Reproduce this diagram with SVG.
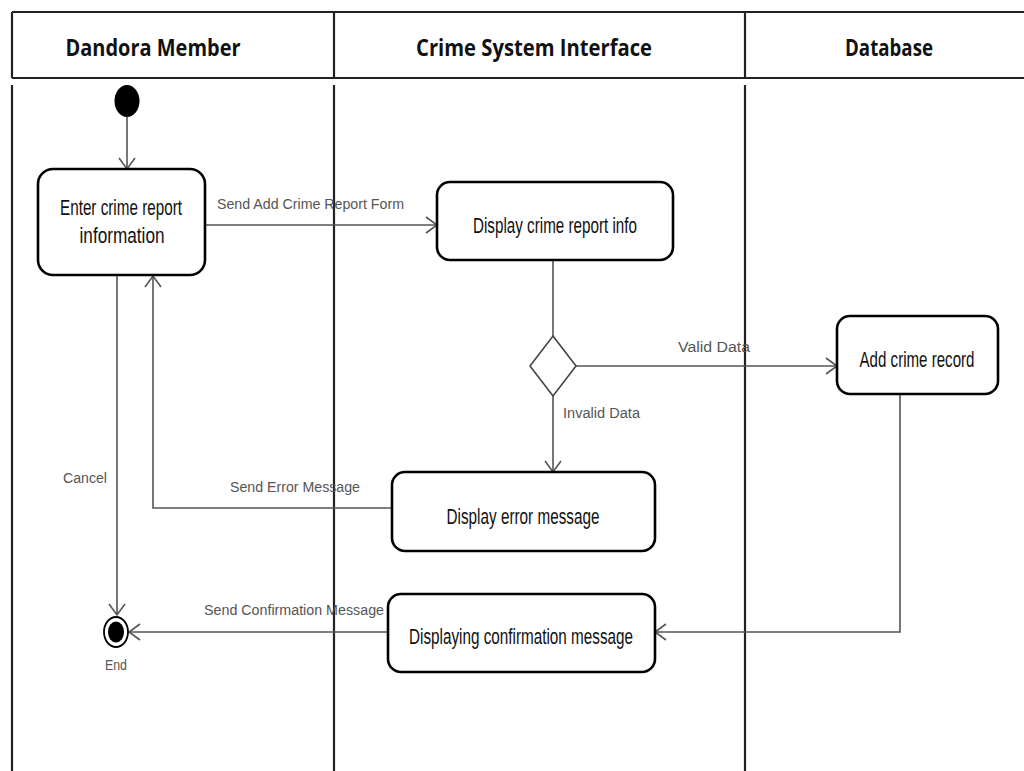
<svg xmlns="http://www.w3.org/2000/svg" width="1024" height="771" viewBox="0 0 1024 771">
<style>
.lane{stroke:#222;stroke-width:2.2;fill:none}
.hdr{font-family:"Open Sans","DejaVu Sans",sans-serif;font-weight:bold;font-size:23px;fill:#111;text-anchor:middle}
.node{fill:#fff;stroke:#000;stroke-width:2.6}
.ntext{font-family:"Liberation Sans",Arial,sans-serif;font-size:18px;fill:#111;text-anchor:middle}
.conn{stroke:#555;stroke-width:1.6;fill:none}
.lbl{font-family:"Liberation Sans",Arial,sans-serif;font-size:15.5px;fill:#555}
</style>
<defs>
<marker id="open" markerWidth="14" markerHeight="18" refX="12" refY="9" orient="auto" markerUnits="userSpaceOnUse">
<path d="M1,1 L12,9 L1,17" fill="none" stroke="#555" stroke-width="1.6"/>
</marker>
</defs>
<rect width="1024" height="771" fill="#fff"/>
<g id="swimlanes">
<line class="lane" x1="12" y1="12" x2="1024" y2="12"/>
<line class="lane" x1="12" y1="78" x2="1024" y2="78"/>
<line class="lane" x1="12" y1="12" x2="12" y2="78"/>
<line class="lane" x1="334" y1="12" x2="334" y2="78"/>
<line class="lane" x1="745" y1="12" x2="745" y2="78"/>
<line class="lane" x1="12" y1="85" x2="12" y2="771"/>
<line class="lane" x1="334" y1="85" x2="334" y2="771"/>
<line class="lane" x1="745" y1="85" x2="745" y2="771"/>
<text class="hdr" x="153" y="56" textLength="175" lengthAdjust="spacingAndGlyphs">Dandora Member</text>
<text class="hdr" x="534" y="56" textLength="236" lengthAdjust="spacingAndGlyphs">Crime System Interface</text>
<text class="hdr" x="889" y="56" textLength="88" lengthAdjust="spacingAndGlyphs">Database</text>
</g>
<g id="connectors">
<line class="conn" x1="127" y1="117" x2="127" y2="169" marker-end="url(#open)"/>
<line class="conn" x1="205" y1="225" x2="437" y2="225" marker-end="url(#open)"/>
<text class="lbl" x="217" y="209" textLength="187" lengthAdjust="spacingAndGlyphs">Send Add Crime Report Form</text>
<line class="conn" x1="553" y1="260" x2="553" y2="336"/>
<line class="conn" x1="576" y1="366" x2="837" y2="366" marker-end="url(#open)"/>
<text class="lbl" x="678" y="352" textLength="72" lengthAdjust="spacingAndGlyphs">Valid Data</text>
<line class="conn" x1="553" y1="396" x2="553" y2="472" marker-end="url(#open)"/>
<text class="lbl" x="563" y="418" textLength="77" lengthAdjust="spacingAndGlyphs">Invalid Data</text>
<polyline class="conn" points="392,508 153,508 153,276" marker-end="url(#open)"/>
<text class="lbl" x="230" y="492" textLength="130" lengthAdjust="spacingAndGlyphs">Send Error Message</text>
<line class="conn" x1="117" y1="275" x2="117" y2="615" marker-end="url(#open)"/>
<text class="lbl" x="63" y="483" textLength="44" lengthAdjust="spacingAndGlyphs">Cancel</text>
<line class="conn" x1="388" y1="632" x2="129" y2="632" marker-end="url(#open)"/>
<text class="lbl" x="204" y="615" textLength="180" lengthAdjust="spacingAndGlyphs">Send Confirmation Message</text>
<polyline class="conn" points="900,394 900,632 655,632" marker-end="url(#open)"/>
</g>
<g id="start">
<ellipse cx="127" cy="101" rx="12.5" ry="16" fill="#000"/>
</g>
<g id="enter-crime-report">
<rect class="node" x="38" y="169" width="167" height="106" rx="15"/>
<text class="ntext" transform="translate(121,215) scale(1,1.2)" textLength="122" lengthAdjust="spacingAndGlyphs">Enter crime report</text>
<text class="ntext" transform="translate(122,243) scale(1,1.2)" textLength="85" lengthAdjust="spacingAndGlyphs">information</text>
</g>
<g id="display-crime-report">
<rect class="node" x="437" y="182" width="236" height="78" rx="13"/>
<text class="ntext" transform="translate(555,233) scale(1,1.2)" textLength="164" lengthAdjust="spacingAndGlyphs">Display crime report info</text>
</g>
<g id="decision">
<polygon points="553,336 576,366 553,396 530,366" fill="#fff" stroke="#444" stroke-width="1.6"/>
</g>
<g id="add-crime-record">
<rect class="node" x="837" y="316" width="161" height="78" rx="13"/>
<text class="ntext" transform="translate(917,367) scale(1,1.2)" textLength="115" lengthAdjust="spacingAndGlyphs">Add crime record</text>
</g>
<g id="display-error">
<rect class="node" x="392" y="472" width="263" height="79" rx="13"/>
<text class="ntext" transform="translate(523,524) scale(1,1.2)" textLength="153" lengthAdjust="spacingAndGlyphs">Display error message</text>
</g>
<g id="display-confirmation">
<rect class="node" x="388" y="594" width="267" height="78" rx="13"/>
<text class="ntext" transform="translate(521,644) scale(1,1.2)" textLength="224" lengthAdjust="spacingAndGlyphs">Displaying confirmation message</text>
</g>
<g id="end">
<ellipse cx="116" cy="632" rx="12" ry="15" fill="#fff" stroke="#000" stroke-width="1.8"/>
<ellipse cx="116" cy="632" rx="8" ry="10.5" fill="#000"/>
<text class="lbl" x="105" y="670" textLength="22" lengthAdjust="spacingAndGlyphs">End</text>
</g>
</svg>
